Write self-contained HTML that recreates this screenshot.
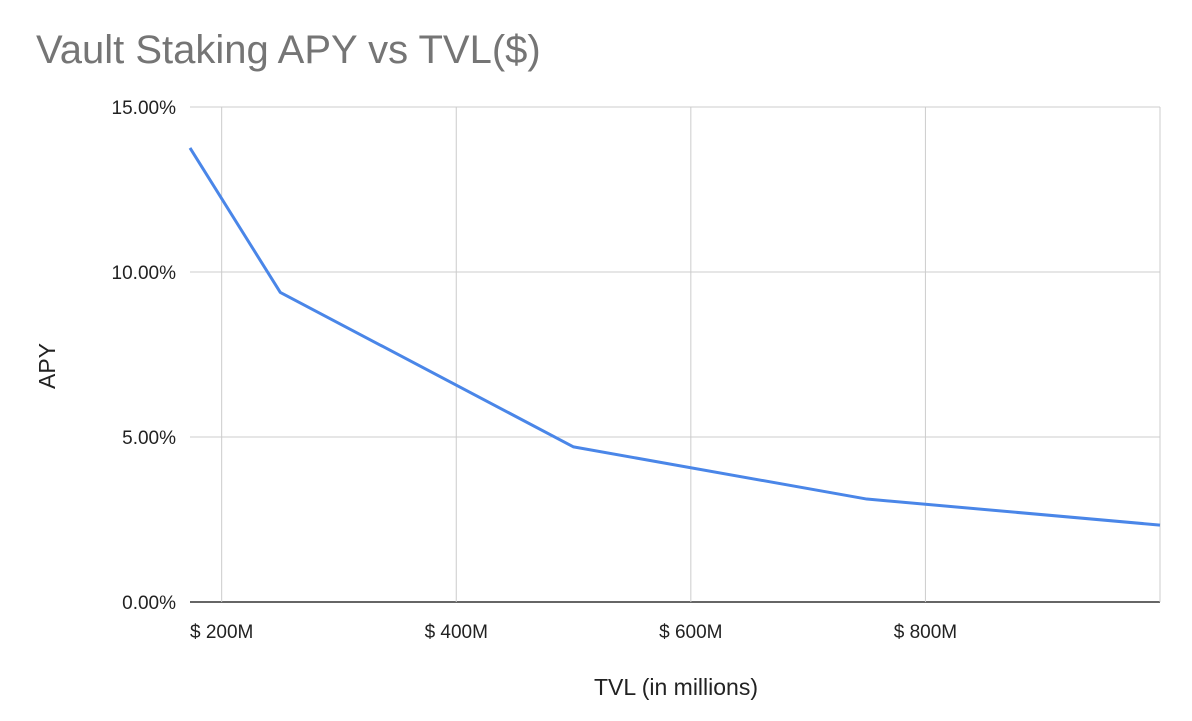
<!DOCTYPE html>
<html><head><meta charset="utf-8"><style>
body{margin:0;background:#fff;}
svg text{font-family:"Liberation Sans",Arial,sans-serif;}
</style></head><body>
<svg id="chart" width="1192" height="716" xmlns="http://www.w3.org/2000/svg">
<rect width="1192" height="716" fill="#fff"/>
<text x="36" y="63" font-size="40" fill="#757575">Vault Staking APY vs TVL($)</text>
<g id="grid"></g>
<g id="ticks"></g>
<path id="line" fill="none" stroke="#4a86e8" stroke-width="3" stroke-linejoin="round"/>
<text transform="translate(55,366) rotate(-90)" text-anchor="middle" font-size="23" fill="#222">APY</text>
<text x="676" y="695" text-anchor="middle" font-size="23" fill="#222">TVL (in millions)</text>
</svg>
<script>
const tvl = [173, 250, 500, 750, 1000];
const apy = [13.76, 9.38, 4.7, 3.12, 2.33];
const xTicks = [200, 400, 600, 800];
const xTickLabels = ["$ 200M", "$ 400M", "$ 600M", "$ 800M"];
const yTicks = [0, 5, 10, 15];
const yTickLabels = ["0.00%", "5.00%", "10.00%", "15.00%"];

const X0 = 190, X1 = 1160, Y0 = 602, Y1 = 107;
const xMin = tvl[0], xMax = 1000, yMax = 15;
const xs = v => X0 + (v - xMin) / (xMax - xMin) * (X1 - X0);
const ys = v => Y0 - v / yMax * (Y0 - Y1);
const NS = "http://www.w3.org/2000/svg";
const grid = document.getElementById('grid'), ticks = document.getElementById('ticks');
function mk(tag, attrs, parent, text){const e=document.createElementNS(NS,tag);for(const k in attrs)e.setAttribute(k,attrs[k]);if(text!==undefined)e.textContent=text;parent.appendChild(e);return e;}
yTicks.forEach((t,i)=>{
  const g = mk('line',{x1:X0,x2:X1,y1:ys(t),y2:ys(t),stroke:t===0?'#333':'#ccc','stroke-width':t===0?1.5:1},grid);
  
  
  const l = mk('text',{x:X0-14,y:ys(t)+7,'text-anchor':'end','font-size':19,fill:'#222'},ticks,yTickLabels[i]);
  
  
});
mk('line',{x1:X1,x2:X1,y1:Y1,y2:Y0,stroke:'#ccc','stroke-width':1},grid);
xTicks.forEach((t,i)=>{
  const g = mk('line',{x1:xs(t),x2:xs(t),y1:Y1,y2:Y0,stroke:'#ccc','stroke-width':1},grid);
  
  
  const l = mk('text',{x:xs(t),y:Y0+36,'text-anchor':'middle','font-size':19,fill:'#222'},ticks,xTickLabels[i]);
  
  
});
document.getElementById('line').setAttribute('d', tvl.map((v,i)=>(i?'L':'M')+xs(v)+','+ys(apy[i])).join(' '));
</script>
</body></html>
